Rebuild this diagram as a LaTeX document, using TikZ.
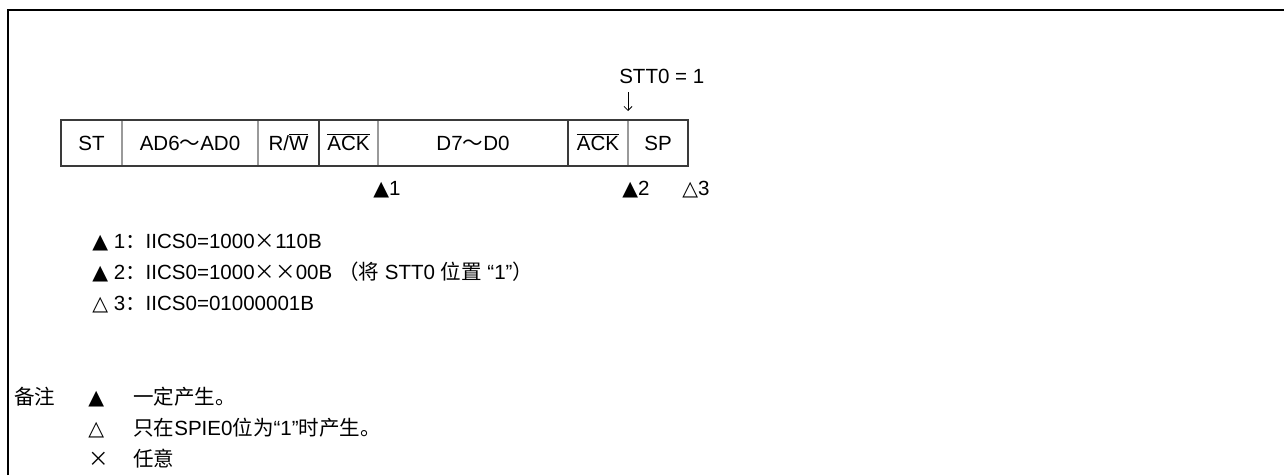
\documentclass[tikz,border=0pt]{standalone}
\usepackage{fontspec}
\setmainfont{Liberation Sans}
\newfontfamily\cjk{Noto Sans CJK SC}
\newfontfamily\symfont{DejaVu Sans}
\usetikzlibrary{arrows.meta}
\newcommand\ovl[1]{\ensuremath{\overline{\mbox{#1}}}}
\newcommand\zh[1]{{\cjk #1}}
\newcommand\tri{{\symfont ▲}}
\newcommand\otri{{\symfont △}}
\definecolor{boxdark}{HTML}{3A3A3A}
\definecolor{boxgray}{HTML}{9A9A9A}
\begin{document}
\begin{tikzpicture}[x=0.75pt, y=-0.75pt,
  every node/.style={inner sep=0pt, font=\fontsize{15.4}{18}\selectfont, text height=11pt, text depth=0pt},
  cell/.style={anchor=center},
  note/.style={anchor=west}]
\useasboundingbox (0,0) rectangle (1284,475);
% ==== 外框（只有上边和左边） ====
\draw[line width=1.5pt] (8,475) -- (8,10) -- (1284,10);

% ==== 传送帧 ====
\foreach \x/\c in {122/boxgray, 258/boxgray, 319/boxdark, 378/boxgray, 568/boxdark, 628/boxgray}
  \draw[line width=0.9pt, \c] (\x,120) -- (\x,166);
\draw[line width=1.8pt, boxdark] (61,120) rectangle (688,166);

\node[cell] (st)   at (91.5,143)  {ST};
\node[cell] (addr) at (190,143)   {AD6\zh{～}AD0};
\node[cell] (rw)   at (288.5,143) {R/\ovl{W}};
\node[cell] (ackA) at (348.5,143) {\ovl{ACK}};
\node[cell] (data) at (473,143)   {D7\zh{～}D0};
\node[cell] (ackB) at (598,143)   {\ovl{ACK}};
\node[cell] (sp)   at (658,143)   {SP};

% STT0 置位
\node[note] (stt) at (619,76) {STT0 = 1};
\coordinate (arrtop) at (628,92);
\coordinate (arrbot) at (628,111);
\draw[line width=0.6pt, -{Straight Barb[length=3pt, width=6pt]}] (arrtop) -- (arrbot);

% 中断标号
\node[note] (intA) at (373,188) {\tri 1};
\node[note] (intB) at (622,188) {\tri 2};
\node[note] (intC) at (682,188) {\otri 3};

% ==== 说明 ====
\node[note] (noteA) at (92,241) {\tri\ 1\zh{：}IICS0=1000\zh{×}110B};
\node[note] (noteB) at (92,272) {\tri\ 2\zh{：}IICS0=1000\zh{××}00B \zh{（将} STT0 \zh{位置} “1”\zh{）}};
\node[note] (noteC) at (92,303) {\otri\ 3\zh{：}IICS0=01000001B};

% ==== 备注 ====
\node[note] (remark) at (14,397) {\zh{备注}};
\node[note] (symA) at (88,397) {\tri};
\node[note] (txtA) at (133,397) {\zh{一定产生。}};
\node[note] (symB) at (88,428) {\otri};
\node[note] (txtB) at (133,428) {\zh{只在}SPIE0\zh{位为}“1”\zh{时产生。}};
\node[note] (symC) at (88,459) {\zh{×}};
\node[note] (txtC) at (133,459) {\zh{任意}};
\end{tikzpicture}
\end{document}
